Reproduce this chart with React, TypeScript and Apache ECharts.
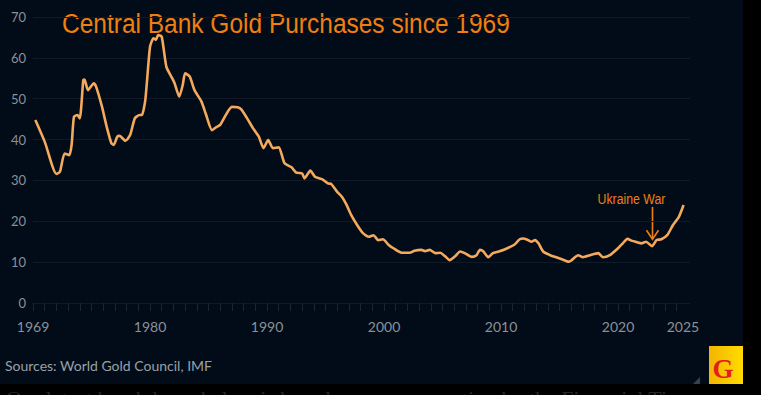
import React, { useEffect, useRef } from "react";
import * as echarts from "echarts";

const years = [
  1970.2, 1971.0, 1972.0, 1972.3, 1972.7, 1973.1, 1973.3, 1973.5, 1973.8, 1974.0,
  1974.3, 1974.4, 1974.7, 1975.2, 1975.4, 1975.9, 1976.3, 1976.7, 1976.9, 1977.2,
  1977.4, 1977.9, 1978.3, 1978.7, 1979.1, 1979.3, 1979.6, 1980.0, 1980.3, 1980.5,
  1980.7, 1981.0, 1981.4, 1981.9, 1982.1, 1982.5, 1982.8, 1983.0, 1983.4, 1983.8,
  1984.4, 1984.8, 1985.3, 1985.7, 1986.0, 1987.0, 1987.5, 1987.8, 1988.3, 1988.8,
  1989.3, 1989.7, 1990.1, 1990.5, 1991.0, 1991.5, 1992.1, 1992.5, 1993.0, 1993.2,
  1993.7, 1994.1, 1994.7, 1995.2, 1995.5, 1996.0, 1996.4, 1996.8, 1997.2, 1997.7,
  1998.2, 1998.7, 1999.1, 1999.5, 1999.9, 2000.4, 2000.8, 2001.5, 2002.2, 2002.6,
  2003.2, 2003.5, 2003.9, 2004.4, 2004.8, 2005.2, 2005.6, 2006.1, 2006.5, 2006.9,
  2007.5, 2007.9, 2008.2, 2008.5, 2008.9, 2009.3, 2009.8, 2010.3, 2011.1, 2011.6,
  2011.9, 2012.3, 2012.6, 2012.9, 2013.2, 2013.6, 2014.2, 2014.6, 2015.2, 2015.8,
  2016.0, 2016.6, 2017.0, 2017.6, 2018.3, 2018.7, 2019.3, 2020.0, 2020.4, 2020.8,
  2021.2, 2021.6, 2022.0, 2022.4, 2022.9, 2023.3, 2023.7, 2024.2, 2024.7, 2025.2,
  2025.6,
];

const shares = [
  44.8, 39.5, 31.6, 32.1, 36.6, 36.2, 38.7, 45.6, 46.0, 45.2,
  54.6, 54.7, 52.1, 53.8, 52.9, 48.0, 43.1, 39.1, 38.7, 40.7,
  40.9, 39.7, 41.1, 45.2, 46.0, 46.0, 49.7, 62.7, 64.8, 64.4,
  65.6, 65.2, 57.8, 55.0, 53.8, 50.5, 53.4, 56.2, 55.4, 52.1,
  49.3, 46.0, 42.3, 43.1, 43.6, 48.0, 47.9, 47.4, 45.2, 42.8,
  40.7, 37.9, 39.9, 37.9, 38.1, 34.2, 33.2, 31.9, 31.7, 30.5,
  32.4, 30.9, 30.3, 29.3, 29.1, 27.2, 26.0, 24.0, 21.5, 19.1,
  17.1, 16.2, 16.6, 15.4, 15.6, 14.2, 13.4, 12.3, 12.3, 12.8,
  13.0, 12.7, 13.0, 12.2, 12.3, 11.5, 10.5, 11.5, 12.6, 12.2,
  11.3, 11.7, 13.0, 12.6, 11.2, 12.2, 12.6, 13.1, 14.2, 15.6,
  15.8, 15.4, 15.0, 15.4, 14.6, 12.6, 11.7, 11.3, 10.7, 10.1,
  10.4, 11.7, 11.2, 11.7, 12.2, 11.2, 11.7, 13.4, 14.6, 15.7,
  15.2, 14.9, 14.6, 15.0, 13.9, 15.4, 15.6, 16.6, 19.1, 21.1,
  24.0,
];

const yTicks = [0, 10, 20, 30, 40, 50, 60, 70];
const xLabelValues = [1970, 1980, 1990, 2000, 2010, 2020, 2025.55];
const xLabelTexts = ["1969", "1980", "1990", "2000", "2010", "2020", "2025"];
const tickYears = Array.from({ length: 56 }, (_, i) => 1970 + i);

const titleText = "Central Bank Gold Purchases since 1969";
const annotationText = "Ukraine War";
const annotationYear = 2022.9;
const annotationValue = 13.9;
const sourceText = "Sources: World Gold Council, IMF";
const footerText = "Our latest breakdown below is based on some reporting by the Financial Times";

export default function App() {
  const ref = useRef<HTMLDivElement>(null);
  useEffect(() => {
    document.body.style.margin = "0";
    const chart = echarts.init(ref.current!, undefined, { renderer: "svg" });
    const data = years.map((y, i) => [y, shares[i]]);
    const gridLineColor = "#0f1a26";
    chart.setOption({
      animation: false,
      backgroundColor: "#000000",
      grid: { left: 33, right: 71, top: 17, bottom: 92, containLabel: false },
      xAxis: {
        type: "value",
        min: 1970,
        max: 2026.15,
        axisLine: { show: false },
        splitLine: { show: false },
        axisTick: {
          show: true,
          length: 8,
          lineStyle: { color: "#1c2631", width: 1 },
          customValues: tickYears,
        },
        axisLabel: {
          customValues: xLabelValues,
          formatter: (v: number) => {
            const idx = xLabelValues.findIndex((x) => Math.abs(x - v) < 0.01);
            return idx >= 0 ? xLabelTexts[idx] : "";
          },
          color: "#8b9198",
          fontFamily: "Lato",
          fontSize: 14,
          margin: 16,
        },
      },
      yAxis: {
        type: "value",
        min: 0,
        max: 70,
        interval: 10,
        axisLine: { show: false },
        axisTick: { show: false },
        splitLine: { lineStyle: { color: gridLineColor, width: 1 } },
        axisLabel: {
          color: "#8b9198",
          fontFamily: "Lato",
          fontSize: 13,
          margin: 7,
          formatter: (v: number) => (yTicks.includes(v) ? String(v) : ""),
        },
      },
      graphic: [
        { type: "rect", z: -10, shape: { x: 0, y: 0, width: 743, height: 384 }, style: { fill: "#010c18" }, silent: true },
      ],
      series: [
        {
          type: "line",
          data,
          showSymbol: false,
          smooth: 0.2,
          lineStyle: { color: "#f4a95c", width: 2.6 },
          z: 5,
        },
      ],
    });

    const p = chart.convertToPixel({ gridIndex: 0 }, [annotationYear, annotationValue]) as number[];
    const ax = Math.round(p[0]) + 0.5;
    const tipY = p[1] - 7;
    chart.setOption({
      graphic: [
        { type: "rect", z: -10, shape: { x: 0, y: 0, width: 743, height: 384 }, style: { fill: "#010c18" }, silent: true },
        {
          type: "text",
          x: 62,
          y: 23,
          scaleX: 0.875,
          style: {
            text: titleText,
            fill: "#f07f12",
            font: "28px 'Liberation Sans', Arial, sans-serif",
            verticalAlign: "middle",
            align: "left",
          },
        },
        {
          type: "text",
          x: ax - 21,
          y: 199,
          scaleX: 0.82,
          style: {
            text: annotationText,
            fill: "#f07f12",
            font: "15px 'Liberation Sans', Arial, sans-serif",
            verticalAlign: "middle",
            align: "center",
          },
        },
        {
          type: "line",
          shape: { x1: ax, y1: 207, x2: ax, y2: tipY },
          style: { stroke: "#f07f12", lineWidth: 1.6 },
        },
        {
          type: "polyline",
          shape: { points: [[ax - 6, tipY - 9], [ax, tipY], [ax + 6, tipY - 9]] },
          style: { stroke: "#f07f12", lineWidth: 1.6, fill: "none" },
        },
        {
          type: "text",
          x: 5,
          y: 365,
          style: {
            text: sourceText,
            fill: "#9aa0a7",
            font: "14px Lato, sans-serif",
            verticalAlign: "middle",
            align: "left",
          },
        },
        {
          type: "polygon",
          shape: { points: [[700, 377], [700, 384], [693, 384]] },
          style: { fill: "#39414b" },
        },
        {
          type: "rect",
          shape: { x: 709, y: 346, width: 34, height: 38 },
          style: {
            fill: new echarts.graphic.LinearGradient(0, 0, 1, 0, [
              { offset: 0, color: "#f3b500" },
              { offset: 1, color: "#ffdc00" },
            ]),
          },
        },
        {
          type: "text",
          x: 723,
          y: 369,
          style: {
            text: "G",
            fill: "#e41e1e",
            font: "bold 27px 'Liberation Serif', 'DejaVu Serif', serif",
            verticalAlign: "middle",
            align: "center",
          },
        },
        {
          type: "text",
          x: 6,
          y: 398,
          style: {
            text: footerText,
            fill: "#262626",
            font: "22px 'Liberation Serif', 'DejaVu Serif', serif",
            verticalAlign: "middle",
            align: "left",
          },
        },
      ],
    });
    return () => chart.dispose();
  }, []);
  return <div ref={ref} style={{ width: 761, height: 395, overflow: "hidden" }} />;
}
